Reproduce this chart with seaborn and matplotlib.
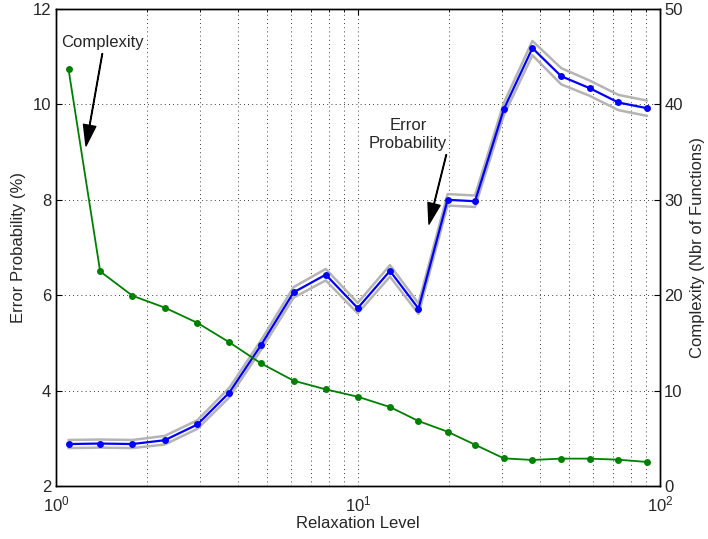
import numpy as np
import pandas as pd
import matplotlib
matplotlib.use("Agg")
import matplotlib.pyplot as plt
import seaborn as sns

# Relaxation levels (log-spaced sweep)
relaxation = [1.10, 1.40, 1.79, 2.29, 2.94, 3.75, 4.77, 6.12, 7.82, 9.98,
              12.76, 15.86, 19.8, 24.4, 30.4, 37.8, 47.1, 58.5, 72.8, 90.6]

# Error probability (%) and its confidence half-width
error_prob = [2.88, 2.89, 2.88, 2.96, 3.29, 3.96, 4.95, 6.06, 6.43, 5.73,
              6.51, 5.72, 8.00, 7.97, 9.90, 11.18, 10.59, 10.34, 10.04, 9.92]
error_ci = [0.085, 0.085, 0.085, 0.09, 0.09, 0.10, 0.10, 0.11, 0.12, 0.11,
            0.12, 0.11, 0.12, 0.12, 0.13, 0.15, 0.17, 0.16, 0.16, 0.16]

# Complexity (number of functions)
complexity = [43.7, 22.5, 19.95, 18.7, 17.1, 15.06, 12.86, 11.04, 10.13, 9.36,
              8.28, 6.81, 5.69, 4.33, 2.90, 2.73, 2.87, 2.87, 2.76, 2.52]

df = pd.DataFrame({
    "relaxation": relaxation,
    "error": error_prob,
    "error_lo": np.array(error_prob) - np.array(error_ci),
    "error_hi": np.array(error_prob) + np.array(error_ci),
    "complexity": complexity,
})

sns.set_style("white")
plt.rcParams["font.family"] = ["Liberation Sans", "DejaVu Sans"]
plt.rcParams["mathtext.fontset"] = "custom"
plt.rcParams["mathtext.rm"] = "Liberation Sans"
plt.rcParams["mathtext.it"] = "Liberation Sans:italic"
plt.rcParams["mathtext.default"] = "regular"

FS = 12

fig = plt.figure(figsize=(7.08, 5.39), dpi=100)
ax = fig.add_axes([0.0791, 0.0983, 0.8531, 0.885])

# Confidence band around the error curve
for col in ("error_lo", "error_hi"):
    sns.lineplot(data=df, x="relaxation", y=col, ax=ax, color="#b4b4b4",
                 lw=1.8, estimator=None, sort=False, zorder=2)
sns.lineplot(data=df, x="relaxation", y="error", ax=ax, color=(0, 0, 1),
             lw=1.6, marker="o", markersize=5, markeredgewidth=0,
             estimator=None, sort=False, zorder=3)

ax.set_xscale("log")
ax.set_xlim(1, 100)
ax.set_ylim(2, 12)
ax.set_yticks([2, 4, 6, 8, 10, 12])
ax.set_xlabel("Relaxation Level", fontsize=FS, labelpad=1)
ax.set_ylabel("Error Probability (%)", fontsize=FS, labelpad=5)
ax.grid(True, which="both", axis="x", ls=(0, (1, 4)), color="k", lw=0.6)
ax.grid(True, which="major", axis="y", ls=(0, (1, 4)), color="k", lw=0.6)
ax.set_axisbelow(True)
ax.tick_params(axis="both", which="both", direction="in", labelsize=FS,
               top=True, right=False, color="k")
ax.tick_params(which="major", length=4, width=0.8)
ax.tick_params(which="minor", length=2.5, width=0.6)
ax.tick_params(axis="x", which="major", pad=6)
for s in ax.spines.values():
    s.set_color("k")
    s.set_linewidth(1.0)

# Complexity on the right axis
ax2 = ax.twinx()
sns.lineplot(data=df, x="relaxation", y="complexity", ax=ax2,
             color=(0, 0.5, 0), lw=1.3, marker="o", markersize=5,
             markeredgewidth=0, estimator=None, sort=False, zorder=3)
ax2.set_xscale("log")
ax2.set_xlim(1, 100)
ax2.set_ylim(0, 50)
ax2.set_yticks([0, 10, 20, 30, 40, 50])
ax2.set_ylabel("Complexity (Nbr of Functions)", fontsize=FS, labelpad=5)
ax2.tick_params(axis="y", direction="in", labelsize=FS, length=4, width=0.8,
                color="k", pad=3)
ax2.grid(False)
for s in ax2.spines.values():
    s.set_color("k")
    s.set_linewidth(1.0)

# Curve annotations
arrow = dict(facecolor="black", edgecolor="black", width=0.4,
             headwidth=9, headlength=15, shrink=0.0)
ax.annotate("Complexity", xy=(1.257, 9.13), xytext=(1.43, 11.29),
            xycoords="data", textcoords="data", ha="center", va="center",
            fontsize=FS, arrowprops=arrow)
ax.annotate("Error\nProbability", xy=(17.18, 7.49), xytext=(14.64, 9.36),
            xycoords="data", textcoords="data", ha="center", va="center",
            fontsize=FS, linespacing=1.25, arrowprops=arrow)

fig.savefig("out.png", dpi=100)
